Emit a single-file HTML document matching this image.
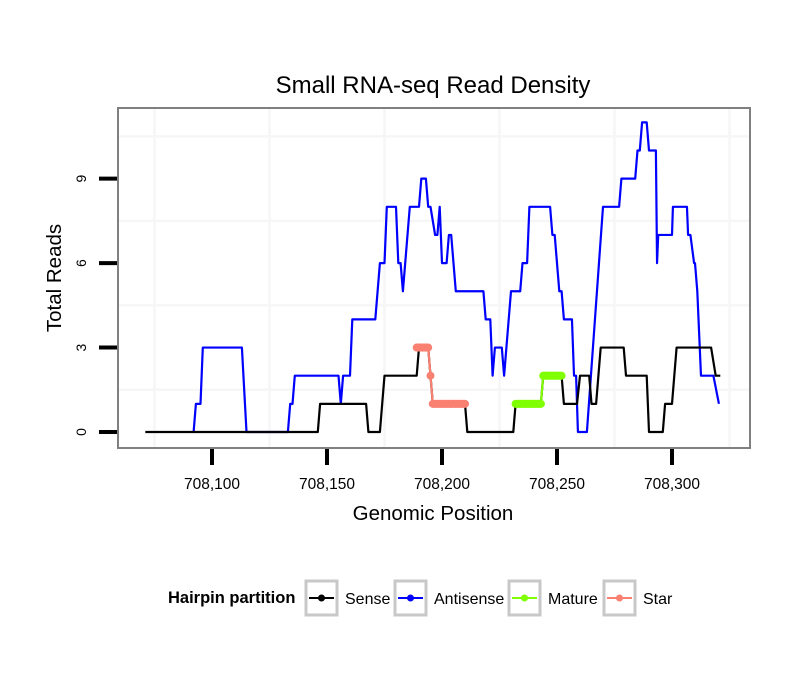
<!DOCTYPE html>
<html><head><meta charset="utf-8"><style>
body{margin:0;background:#fff;}
svg text{font-family:"Liberation Sans",sans-serif;}
</style></head><body>
<svg id="chart" width="810" height="690" xmlns="http://www.w3.org/2000/svg">
<rect width="810" height="690" fill="#fff"/>
<text x="433" y="93" text-anchor="middle" font-size="24" fill="#000">Small RNA-seq Read Density</text>
<g id="grid"></g>
<g id="series"></g>
<rect x="118" y="108" width="632" height="340" fill="none" stroke="#808080" stroke-width="2"/>
<g id="axes"></g>
<text x="433" y="520" text-anchor="middle" font-size="20.5">Genomic Position</text>
<text transform="translate(61,278) rotate(-90)" text-anchor="middle" font-size="20.5">Total Reads</text>
<g>
<text x="168" y="603" font-size="16.5" font-weight="bold">Hairpin partition</text>
<g><rect x="306" y="581" width="31" height="34" fill="#fff" stroke="#c8c8c8" stroke-width="3"/><line x1="309" y1="598" x2="334" y2="598" stroke="#000" stroke-width="2"/><circle cx="321.5" cy="598" r="3.5" fill="#000"/><text x="345" y="604" font-size="16">Sense</text></g>
<g><rect x="395" y="581" width="31" height="34" fill="#fff" stroke="#c8c8c8" stroke-width="3"/><line x1="398" y1="598" x2="423" y2="598" stroke="#0000ff" stroke-width="2"/><circle cx="410.5" cy="598" r="3.5" fill="#0000ff"/><text x="434" y="604" font-size="16">Antisense</text></g>
<g><rect x="509" y="581" width="31" height="34" fill="#fff" stroke="#c8c8c8" stroke-width="3"/><line x1="512" y1="598" x2="537" y2="598" stroke="#7fff00" stroke-width="2"/><circle cx="524.5" cy="598" r="3.5" fill="#7fff00"/><text x="548" y="604" font-size="16">Mature</text></g>
<g><rect x="604" y="581" width="31" height="34" fill="#fff" stroke="#c8c8c8" stroke-width="3"/><line x1="607" y1="598" x2="632" y2="598" stroke="#fa8072" stroke-width="2"/><circle cx="619.5" cy="598" r="3.5" fill="#fa8072"/><text x="643" y="604" font-size="16">Star</text></g>
</g>
</svg>
<script>
const xTicks = [708100, 708150, 708200, 708250, 708300];
const xTickLabels = ["708,100", "708,150", "708,200", "708,250", "708,300"];
const yTicks = [0, 3, 6, 9];
const yTickLabels = ["0", "3", "6", "9"];
const xMinor = [708075, 708125, 708175, 708225, 708275, 708325];
const yMinor = [1.5, 4.5, 7.5, 10.5];
const senseX = [708071,708146,708147,708167,708168,708173,708175,708189,708190,708194,708195,708196,708210,708211,708231,708232,708243,708244,708252,708253,708258.7,708260,708264,708265,708267,708269,708279,708280,708289,708290,708296,708297,708300,708302,708317,708319,708321];
const senseY = [0,0,1,1,0,0,2,2,3,3,2,1,1,0,0,1,1,2,2,1,1,2,2,1,1,3,3,2,2,0,0,1,1,3,3,2,2];
const antiX = [708092,708093,708095,708096,708113,708115,708133,708134,708135,708136,708155,708156,708157,708160,708161,708171,708173,708175,708176,708180,708181,708182,708183,708186,708190,708191,708193,708194,708195,708197,708198,708199,708200,708202,708203,708204,708206,708218,708219,708221,708222,708223,708226,708227,708230,708234,708235,708237,708238,708247,708248,708249,708251,708252,708253,708256.5,708257.4,708258.3,708259.1,708263,708270,708277,708278,708284,708285,708286,708287,708289,708290,708293,708293.5,708294,708300,708300.4,708306.5,708307,708308,708309.6,708310,708311,708312.6,708318,708320.4];
const antiY = [0,1,1,3,3,0,0,1,1,2,2,1,2,2,4,4,6,6,8,8,6,6,5,8,8,9,9,8,8,7,7,8,6,6,7,7,5,5,4,4,2,3,3,2,5,5,6,6,8,8,7,7,5,5,4,4,2,2,0,0,8,8,9,9,10,10,11,11,10,10,6,7,7,8,8,7,7,6,6,5,2,2,1];
const starX = [708189,708190,708191,708192,708193,708194,708195,708196,708198,708200,708202,708204,708206,708208,708210];
const starY = [3,3,3,3,3,3,2,1,1,1,1,1,1,1,1];
const matureX = [708232,708234,708236,708238,708240,708242,708243,708244,708246,708248,708250,708252];
const matureY = [1,1,1,1,1,1,1,2,2,2,2,2];

const NS='http://www.w3.org/2000/svg';
const sx = v => 212 + (v - 708100) * 2.3;
const sy = v => 432 - v * 28.15;
function mk(tag, attrs, parent){const e=document.createElementNS(NS,tag);for(const k in attrs)e.setAttribute(k,attrs[k]);parent.appendChild(e);return e;}
const grid=document.getElementById('grid'), axes=document.getElementById('axes'), ser=document.getElementById('series');
xMinor.forEach(v=>{const l=mk('line',{x1:sx(v),x2:sx(v),y1:109,y2:447,stroke:'#f6f6f6','stroke-width':2.5},grid);

});
yMinor.forEach(v=>{const l=mk('line',{x1:119,x2:749,y1:sy(v),y2:sy(v),stroke:'#f6f6f6','stroke-width':2.5},grid);

});
xTicks.forEach((v,i)=>{const t=mk('line',{x1:sx(v),x2:sx(v),y1:449,y2:465,stroke:'#000','stroke-width':4},axes);


const tx=mk('text',{x:sx(v),y:489,'text-anchor':'middle','font-size':15.5},axes);tx.textContent=xTickLabels[i];

});
yTicks.forEach((v,i)=>{const t=mk('line',{x1:99,x2:117,y1:sy(v),y2:sy(v),stroke:'#000','stroke-width':4},axes);


const tx=mk('text',{transform:`translate(86,${sy(v)}) rotate(-90)`,'text-anchor':'middle','font-size':14},axes);tx.textContent=yTickLabels[i];

});
function pts(X,Y){return X.map((x,i)=>sx(x)+','+sy(Y[i])).join(' ');}
const a=mk('polyline',{points:pts(antiX,antiY),fill:'none',stroke:'#0000ff','stroke-width':2.2,'stroke-linejoin':'round'},ser);


const s=mk('polyline',{points:pts(senseX,senseY),fill:'none',stroke:'#000','stroke-width':2.2,'stroke-linejoin':'round'},ser);


function dots(X,Y,col,name){
  const l=mk('polyline',{points:pts(X,Y),fill:'none',stroke:col,'stroke-width':2.2},ser);
  
  
  X.forEach((x,i)=>{const c=mk('circle',{cx:sx(x),cy:sy(Y[i]),r:4,fill:col},ser);
  
  
  if(i<X.length-1&&Y[i+1]===Y[i]){const r=mk('line',{x1:sx(x),x2:sx(X[i+1]),y1:sy(Y[i]),y2:sy(Y[i]),stroke:col,'stroke-width':8},ser);
  
  }});
}
dots(starX,starY,'#fa8072','star');
dots(matureX,matureY,'#7fff00','mature');
</script>
</body></html>
